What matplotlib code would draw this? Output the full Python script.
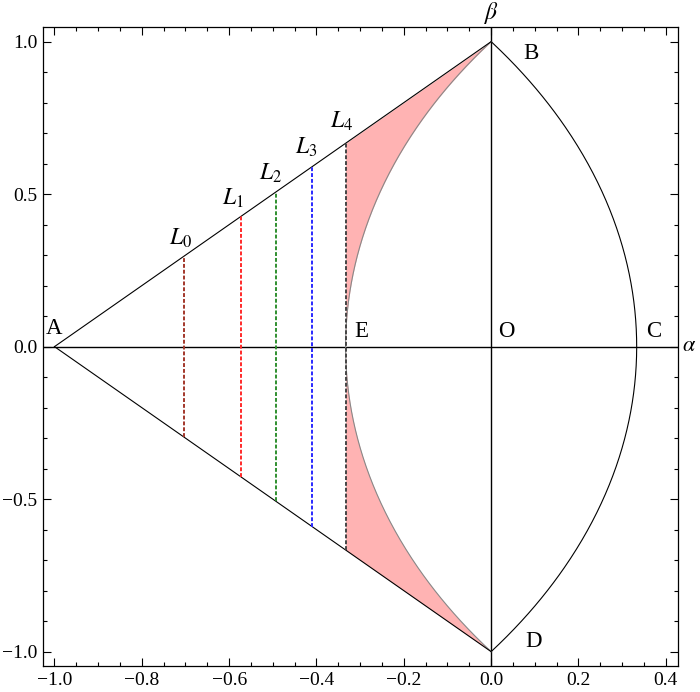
import matplotlib
matplotlib.use("Agg")
import matplotlib.pyplot as plt
import numpy as np
from matplotlib.ticker import MultipleLocator

plt.rcParams['font.family'] = ['Liberation Serif', 'DejaVu Serif']
plt.rcParams['mathtext.fontset'] = 'stix'

# corner points of the region
A = (-1.0, 0.0)
B = (0.0, 1.0)
C = (1.0 / 3.0, 0.0)
D = (0.0, -1.0)
E = (-1.0 / 3.0, 0.0)

# vertical dashed cuts L0..L4
cut_x = [-0.703, -0.573, -0.493, -0.41, -1.0 / 3.0]
cut_colors = ['#a3372b', '#ff2a2a', '#2f8f2f', '#2a2aff', '#454545']
cut_names = ['$L_0$', '$L_1$', '$L_2$', '$L_3$', '$L_4$']
name_pos = [(-0.712, 0.334), (-0.591, 0.465), (-0.506, 0.547), (-0.424, 0.631), (-0.343, 0.718)]


def circle_through(p1, p2, p3):
    # centre on the alpha axis (symmetric arcs)
    (x1, y1), (x2, y2) = p1, p2
    h = (x1**2 + y1**2 - x2**2 - y2**2) / (2 * (x1 - x2))
    r = np.hypot(x1 - h, y1)
    return h, r


fig = plt.figure(figsize=(7.0, 6.92), dpi=100)
ax = fig.add_axes([0.061, 0.0376, 0.9076, 0.9234])

# arcs B-C-D and B-E-D
hc, rc = circle_through(B, C, D)
he, re = circle_through(B, E, D)
t = np.linspace(-1, 1, 400)
xr = hc + np.sqrt(rc**2 - t**2)
xl = he - np.sqrt(re**2 - t**2)

# pink region between the sides of the triangle and the left arc
xs = np.linspace(E[0], 0, 400)
arc_y = np.sqrt(np.clip(re**2 - (xs - he)**2, 0, None))
ax.fill_between(xs, arc_y, 1 + xs, color='#ffb3b3', lw=0, zorder=1)
ax.fill_between(xs, -(1 + xs), -arc_y, color='#ffb3b3', lw=0, zorder=1)

ax.plot(xr, t, color='black', lw=0.8, zorder=3)
ax.plot(xl, t, color='#888888', lw=0.8, zorder=3)
ax.plot([A[0], B[0]], [A[1], B[1]], color='black', lw=0.8, zorder=3)
ax.plot([A[0], D[0]], [A[1], D[1]], color='black', lw=0.8, zorder=3)

ax.axhline(0, color='black', lw=1.0, zorder=2)
ax.axvline(0, color='black', lw=1.0, zorder=2)

for x, c in zip(cut_x, cut_colors):
    ax.plot([x, x], [-(1 + x), 1 + x], color=c, lw=1.4, ls=(0, (2, 1)), zorder=4)

for s, (x, y) in zip(cut_names, name_pos):
    ax.text(x, y, s, fontsize=17, ha='center', va='baseline')

fs = 16.5
ax.text(-1.0, 0.025, 'A', fontsize=fs, ha='center', va='bottom')
ax.text(-0.314, 0.015, 'E', fontsize=fs, ha='left', va='bottom')
ax.text(0.016, 0.015, 'O', fontsize=fs, ha='left', va='bottom')
ax.text(0.355, 0.015, 'C', fontsize=fs, ha='left', va='bottom')
ax.text(0.073, 0.997, 'B', fontsize=fs, ha='left', va='top')
ax.text(0.078, -1.0, 'D', fontsize=fs, ha='left', va='bottom')
ax.text(0.0, 1.075, r'$\beta$', fontsize=17, ha='center', va='baseline', clip_on=False)
ax.text(0.438, 0.0, r'$\alpha$', fontsize=16, ha='left', va='center', clip_on=False)

ax.set_xlim(-1.027, 0.428)
ax.set_ylim(-1.047, 1.048)
ax.xaxis.set_major_locator(MultipleLocator(0.2))
ax.xaxis.set_minor_locator(MultipleLocator(0.05))
ax.yaxis.set_major_locator(MultipleLocator(0.5))
ax.yaxis.set_minor_locator(MultipleLocator(0.1))
ax.xaxis.set_major_formatter(lambda v, p: f'{v:.1f}'.replace('-', '\u2212'))
ax.yaxis.set_major_formatter(lambda v, p: f'{v:.1f}'.replace('-', '\u2212'))
ax.tick_params(which='both', direction='in', top=True, right=True, labelsize=14, width=0.8)
ax.tick_params(which='major', length=6, pad=4)
ax.tick_params(which='minor', length=3)
for sp in ax.spines.values():
    sp.set_linewidth(0.9)

fig.savefig('out.png', dpi=100)
